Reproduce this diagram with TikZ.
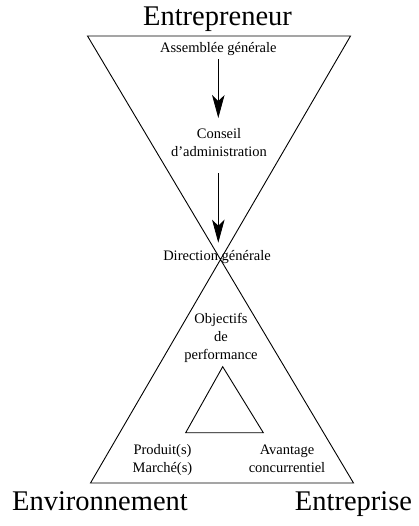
\documentclass[tikz,border=0pt]{standalone}
\usepackage{fontspec}
\setmainfont{Liberation Serif}
\usetikzlibrary{arrows.meta}
\begin{document}
\begin{tikzpicture}[x=1pt,y=-1pt,
  small/.style={font=\fontsize{14.5}{18}\selectfont, inner sep=0pt, align=center, anchor=base},
  big/.style={font=\fontsize{28.5}{34}\selectfont, inner sep=0pt, anchor=base},
  outline/.style={line width=0.9pt, line join=miter},
  flow/.style={line width=0.8pt, -{Stealth[length=23pt,width=12.5pt,inset=6pt]}}]
\useasboundingbox (0,0) rectangle (418,526);
% hourglass
\coordinate (TL) at (87.5,36);
\coordinate (TR) at (350.5,36);
\coordinate (BL) at (90.5,483);
\coordinate (BR) at (353.5,483);
\draw[outline] (TL) -- (TR) -- (BL) -- (BR) -- cycle;
% inner triangle
\coordinate (IA) at (222.7,366.7);
\coordinate (IL) at (185.7,432.7);
\coordinate (IR) at (263.3,432.7);
\draw[outline] (IA) -- (IL) -- (IR) -- cycle;
% labels (base = baseline of last line)
\node[big] (ent) at (217.5,26) {Entrepreneur};
\node[big] (env) at (100,510) {Environnement};
\node[big] (entr) at (353.5,510) {Entreprise};
\node[small] (ag) at (218.3,52.7) {Assemblée générale};
\node[small] (ca) at (219,156.7) {Conseil\\d’administration};
\node[small] (dg) at (217,260) {Direction générale};
\node[small] (obj) at (221,359.5) {Objectifs\\de\\performance};
\node[small] (pm) at (162.5,472.7) {Produit(s)\\Marché(s)};
\node[small] (av) at (287,472.7) {Avantage\\concurrentiel};
% arrows
\draw[flow, shorten <=3pt, shorten >=10.4pt] (ag.south) -- (ag.south |- ca.north);
\draw[flow, shorten <=16pt, shorten >=7pt] (ag.south |- ca.south) -- (ag.south |- dg.north);
\end{tikzpicture}
\end{document}
